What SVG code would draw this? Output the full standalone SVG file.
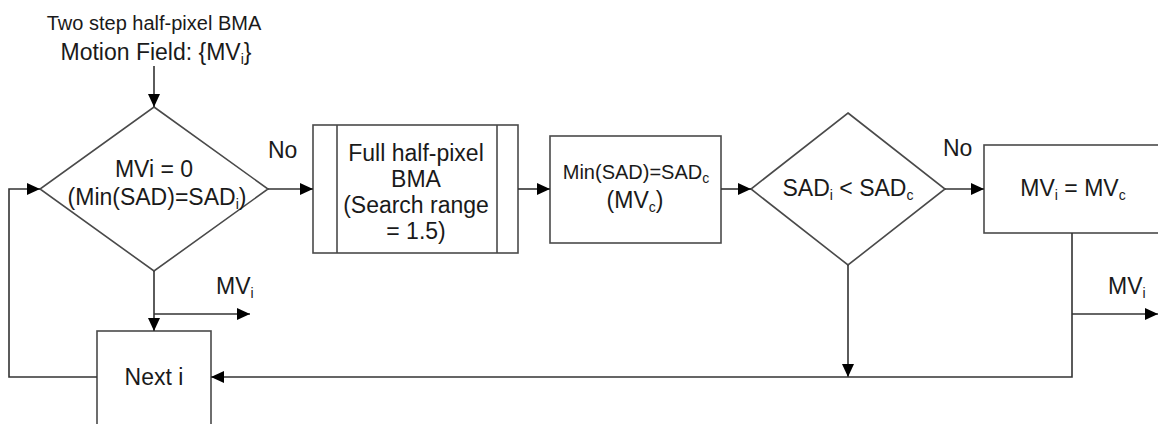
<svg xmlns="http://www.w3.org/2000/svg" width="1158" height="424" viewBox="0 0 1158 424">
  <style>
    .shape { fill: #ffffff; stroke: #4a4a4a; stroke-width: 1.6; }
    .wire { fill: none; stroke: #333333; stroke-width: 1.6; }
    text { font-family: "Liberation Sans", Arial, sans-serif; fill: #1a1a1a; text-anchor: middle; }
    .t23 { font-size: 23px; }
    .t20 { font-size: 20px; }
    .lbl { font-size: 23px; text-anchor: start; }
    .sub { font-size: 14px; }
  </style>
  <defs>
    <marker id="arrow" markerUnits="userSpaceOnUse" markerWidth="14" markerHeight="12" refX="13" refY="6" orient="auto">
      <path d="M0,0 L13,6 L0,12 z" fill="#000000"/>
    </marker>
  </defs>

  <rect width="1158" height="424" fill="#ffffff"/>

  <!-- input: motion field from the two step search -->
  <g id="input">
    <text class="t20" x="154" y="30">Two step half-pixel BMA</text>
    <text class="t23" x="156" y="60">Motion Field: {MV<tspan class="sub" dy="4">i</tspan><tspan dy="-4">}</tspan></text>
  </g>

  <!-- decision: zero motion vector -->
  <g id="check-zero">
    <polygon class="shape" points="154,107 268,189 154,271 40,189"/>
    <text class="t23" x="154" y="177">MVi = 0</text>
    <text class="t23" x="157" y="205">(Min(SAD)=SAD<tspan class="sub" dy="4">i</tspan><tspan dy="-4">)</tspan></text>
  </g>

  <!-- predefined process: full half-pixel search -->
  <g id="full-search">
    <rect class="shape" x="313" y="125" width="205" height="128"/>
    <line class="shape" x1="337" y1="125" x2="337" y2="253"/>
    <line class="shape" x1="497" y1="125" x2="497" y2="253"/>
    <text class="t23" x="416" y="161">Full half-pixel</text>
    <text class="t23" x="416" y="187">BMA</text>
    <text class="t23" x="416" y="213">(Search range</text>
    <text class="t23" x="416" y="239">= 1.5)</text>
  </g>

  <!-- process: candidate minimum -->
  <g id="candidate">
    <rect class="shape" x="550" y="136" width="171" height="107"/>
    <text class="t20" x="636" y="179">Min(SAD)=SAD<tspan class="sub" dy="4">c</tspan></text>
    <text class="t23" x="635" y="208">(MV<tspan class="sub" dy="4">c</tspan><tspan dy="-4">)</tspan></text>
  </g>

  <!-- decision: compare SAD values -->
  <g id="compare">
    <polygon class="shape" points="848,113 945,189 848,265 751,189"/>
    <text class="t23" x="848" y="196">SAD<tspan class="sub" dy="4">i</tspan><tspan dy="-4"> &lt; SAD</tspan><tspan class="sub" dy="4">c</tspan></text>
  </g>

  <!-- process: replace motion vector -->
  <g id="replace">
    <rect class="shape" x="984" y="145" width="190" height="88"/>
    <text class="t23" x="1073" y="196">MV<tspan class="sub" dy="4">i</tspan><tspan dy="-4"> = MV</tspan><tspan class="sub" dy="4">c</tspan></text>
  </g>

  <!-- process: advance to next block -->
  <g id="next">
    <rect class="shape" x="97" y="331" width="114" height="110"/>
    <text class="t23" x="154" y="385">Next i</text>
  </g>

  <!-- connectors -->
  <g id="connectors">
    <line class="wire" x1="154" y1="66" x2="154" y2="107" marker-end="url(#arrow)"/>
    <line class="wire" x1="268" y1="189" x2="313" y2="189" marker-end="url(#arrow)"/>
    <line class="wire" x1="518" y1="189" x2="550" y2="189" marker-end="url(#arrow)"/>
    <line class="wire" x1="721" y1="189" x2="751" y2="189" marker-end="url(#arrow)"/>
    <line class="wire" x1="945" y1="189" x2="984" y2="189" marker-end="url(#arrow)"/>
    <line class="wire" x1="154" y1="271" x2="154" y2="331" marker-end="url(#arrow)"/>
    <line class="wire" x1="154" y1="314" x2="250" y2="314" marker-end="url(#arrow)"/>
    <line class="wire" x1="848" y1="265" x2="848" y2="377" marker-end="url(#arrow)"/>
    <polyline class="wire" points="1072,233 1072,377 211,377" marker-end="url(#arrow)"/>
    <line class="wire" x1="1072" y1="314" x2="1158" y2="314" marker-end="url(#arrow)"/>
    <polyline class="wire" points="97,377 9,377 9,189 40,189" marker-end="url(#arrow)"/>
  </g>

  <!-- connector labels -->
  <g id="labels">
    <text class="lbl" x="268" y="158">No</text>
    <text class="lbl" x="943" y="156">No</text>
    <text class="lbl" x="216" y="294">MV<tspan class="sub" dy="4">i</tspan></text>
    <text class="lbl" x="1108" y="294">MV<tspan class="sub" dy="4">i</tspan></text>
  </g>
</svg>
